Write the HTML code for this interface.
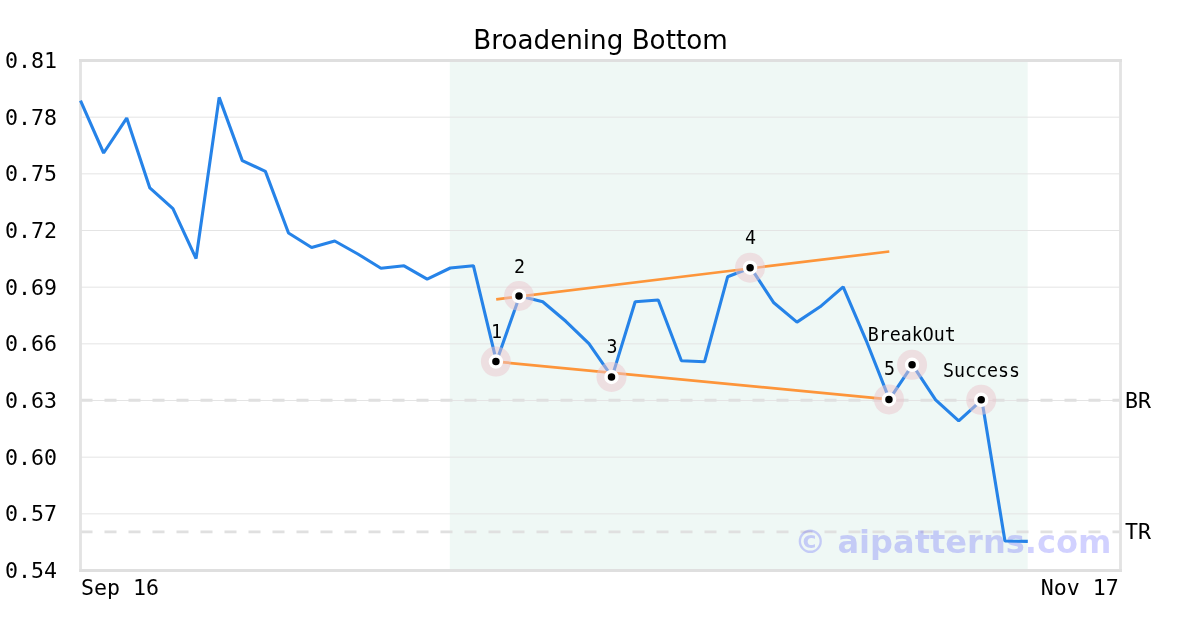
<!DOCTYPE html>
<html lang="en"><head><meta charset="utf-8"><title>Broadening Bottom</title>
<style>
html,body{margin:0;padding:0;background:#fff;}
body{width:1200px;height:630px;overflow:hidden;}
svg{display:block;}
.mono{font-family:"DejaVu Sans Mono","Liberation Mono",monospace;}
.sans{font-family:"DejaVu Sans","Liberation Sans",sans-serif;}
</style></head><body>
<svg width="1200" height="630" viewBox="0 0 1200 630">
<rect x="0" y="0" width="1200" height="630" fill="#ffffff"/>
<rect x="449.8" y="60.5" width="577.9" height="510.0" fill="#eff8f5"/>
<line x1="80.5" x2="1120.5" y1="117.17" y2="117.17" stroke="#e4e4e4" stroke-width="1"/>
<line x1="80.5" x2="1120.5" y1="173.83" y2="173.83" stroke="#e4e4e4" stroke-width="1"/>
<line x1="80.5" x2="1120.5" y1="230.50" y2="230.50" stroke="#e4e4e4" stroke-width="1"/>
<line x1="80.5" x2="1120.5" y1="287.17" y2="287.17" stroke="#e4e4e4" stroke-width="1"/>
<line x1="80.5" x2="1120.5" y1="343.83" y2="343.83" stroke="#e4e4e4" stroke-width="1"/>
<line x1="80.5" x2="1120.5" y1="400.50" y2="400.50" stroke="#e4e4e4" stroke-width="1"/>
<line x1="80.5" x2="1120.5" y1="457.17" y2="457.17" stroke="#e4e4e4" stroke-width="1"/>
<line x1="80.5" x2="1120.5" y1="513.83" y2="513.83" stroke="#e4e4e4" stroke-width="1"/>
<line x1="80.5" x2="1120.5" y1="400.30" y2="400.30" stroke="#e0e0e0" stroke-width="2.9" stroke-dasharray="12 12"/>
<line x1="80.5" x2="1120.5" y1="531.90" y2="531.90" stroke="#e0e0e0" stroke-width="2.9" stroke-dasharray="12 12"/>
<text class="sans" x="1111.5" y="553" text-anchor="end" font-size="32.1" font-weight="bold" fill="#0000ff" fill-opacity="0.18">© aipatterns.com</text>
<line x1="80.5" x2="80.5" y1="59.0" y2="572.0" stroke="#e3e3e3" stroke-width="2.8"/>
<line x1="1120.5" x2="1120.5" y1="59.0" y2="572.0" stroke="#e3e3e3" stroke-width="2.8"/>
<line x1="79.0" x2="1122.0" y1="60.5" y2="60.5" stroke="#dfdfdf" stroke-width="2.8"/>
<line x1="79.0" x2="1122.0" y1="570.5" y2="570.5" stroke="#dfdfdf" stroke-width="2.8"/>
<polyline points="80.50,100.60 103.61,153.00 126.72,118.10 149.83,187.90 172.94,208.60 196.06,258.60 219.17,97.40 242.28,160.60 265.39,171.40 288.50,233.00 311.61,247.50 334.72,241.00 357.83,254.00 380.94,268.30 404.06,265.80 427.17,279.20 450.28,268.00 473.39,265.70 496.50,361.60 519.61,296.00 542.72,301.80 565.83,321.30 588.94,343.60 612.06,376.90 635.17,301.80 658.28,300.00 681.39,360.80 704.50,361.80 727.61,276.80 750.72,267.70 773.83,302.80 796.94,322.10 820.06,306.80 843.17,286.90 866.28,340.80 889.39,399.40 912.50,364.80 935.61,399.80 958.72,420.80 981.83,399.80 1004.94,541.00 1027.80,541.40" fill="none" stroke="#2683e8" stroke-width="3.1" stroke-linejoin="bevel" stroke-linecap="butt"/>
<line x1="496.2" y1="299.3" x2="889.3" y2="251.5" stroke="#fd953a" stroke-width="2.7"/>
<line x1="496.2" y1="361.65" x2="889.3" y2="399.45" stroke="#fd953a" stroke-width="2.7"/>
<circle cx="495.90" cy="361.60" r="15" fill="#ebc6ce" fill-opacity="0.5"/>
<circle cx="519.00" cy="296.00" r="15" fill="#ebc6ce" fill-opacity="0.5"/>
<circle cx="611.50" cy="376.90" r="15" fill="#ebc6ce" fill-opacity="0.5"/>
<circle cx="750.10" cy="267.70" r="15" fill="#ebc6ce" fill-opacity="0.5"/>
<circle cx="888.95" cy="399.40" r="15" fill="#ebc6ce" fill-opacity="0.5"/>
<circle cx="912.06" cy="364.80" r="15" fill="#ebc6ce" fill-opacity="0.5"/>
<circle cx="981.20" cy="399.80" r="15" fill="#ebc6ce" fill-opacity="0.5"/>
<circle cx="495.90" cy="361.60" r="5.5" fill="#000" stroke="#fff" stroke-width="3.5"/>
<circle cx="519.00" cy="296.00" r="5.5" fill="#000" stroke="#fff" stroke-width="3.5"/>
<circle cx="611.50" cy="376.90" r="5.5" fill="#000" stroke="#fff" stroke-width="3.5"/>
<circle cx="750.10" cy="267.70" r="5.5" fill="#000" stroke="#fff" stroke-width="3.5"/>
<circle cx="888.95" cy="399.40" r="5.5" fill="#000" stroke="#fff" stroke-width="3.5"/>
<circle cx="912.06" cy="364.80" r="5.5" fill="#000" stroke="#fff" stroke-width="3.5"/>
<circle cx="981.20" cy="399.80" r="5.5" fill="#000" stroke="#fff" stroke-width="3.5"/>
<text class="sans" x="600.5" y="48.8" text-anchor="middle" font-size="26.2" fill="#000">Broadening Bottom</text>
<text class="mono" x="57" y="68.10" text-anchor="end" font-size="21.6" fill="#000">0.81</text>
<text class="mono" x="57" y="124.77" text-anchor="end" font-size="21.6" fill="#000">0.78</text>
<text class="mono" x="57" y="181.43" text-anchor="end" font-size="21.6" fill="#000">0.75</text>
<text class="mono" x="57" y="238.10" text-anchor="end" font-size="21.6" fill="#000">0.72</text>
<text class="mono" x="57" y="294.77" text-anchor="end" font-size="21.6" fill="#000">0.69</text>
<text class="mono" x="57" y="351.43" text-anchor="end" font-size="21.6" fill="#000">0.66</text>
<text class="mono" x="57" y="408.10" text-anchor="end" font-size="21.6" fill="#000">0.63</text>
<text class="mono" x="57" y="464.77" text-anchor="end" font-size="21.6" fill="#000">0.60</text>
<text class="mono" x="57" y="521.43" text-anchor="end" font-size="21.6" fill="#000">0.57</text>
<text class="mono" x="57" y="578.10" text-anchor="end" font-size="21.6" fill="#000">0.54</text>
<text class="mono" x="81.1" y="595" font-size="21.6" fill="#000">Sep 16</text>
<text class="mono" x="1118.7" y="595" text-anchor="end" font-size="21.6" fill="#000">Nov 17</text>
<text class="mono" x="1125" y="408.10" font-size="21.6" fill="#000">BR</text>
<text class="mono" x="1125" y="538.90" font-size="21.6" fill="#000">TR</text>
<text class="mono" transform="translate(496.5,337.8) scale(0.958,1)" x="0" y="0" text-anchor="middle" font-size="19.1" fill="#000">1</text>
<text class="mono" transform="translate(519.6,272.5) scale(0.958,1)" x="0" y="0" text-anchor="middle" font-size="19.1" fill="#000">2</text>
<text class="mono" transform="translate(611.9,352.8) scale(0.958,1)" x="0" y="0" text-anchor="middle" font-size="19.1" fill="#000">3</text>
<text class="mono" transform="translate(750.4,243.7) scale(0.958,1)" x="0" y="0" text-anchor="middle" font-size="19.1" fill="#000">4</text>
<text class="mono" transform="translate(889.5,375.2) scale(0.958,1)" x="0" y="0" text-anchor="middle" font-size="19.1" fill="#000">5</text>
<text class="mono" transform="translate(911.8,340.5) scale(0.958,1)" x="0" y="0" text-anchor="middle" font-size="19.1" fill="#000">BreakOut</text>
<text class="mono" transform="translate(981.4,376.6) scale(0.958,1)" x="0" y="0" text-anchor="middle" font-size="19.1" fill="#000">Success</text>
</svg></body></html>
